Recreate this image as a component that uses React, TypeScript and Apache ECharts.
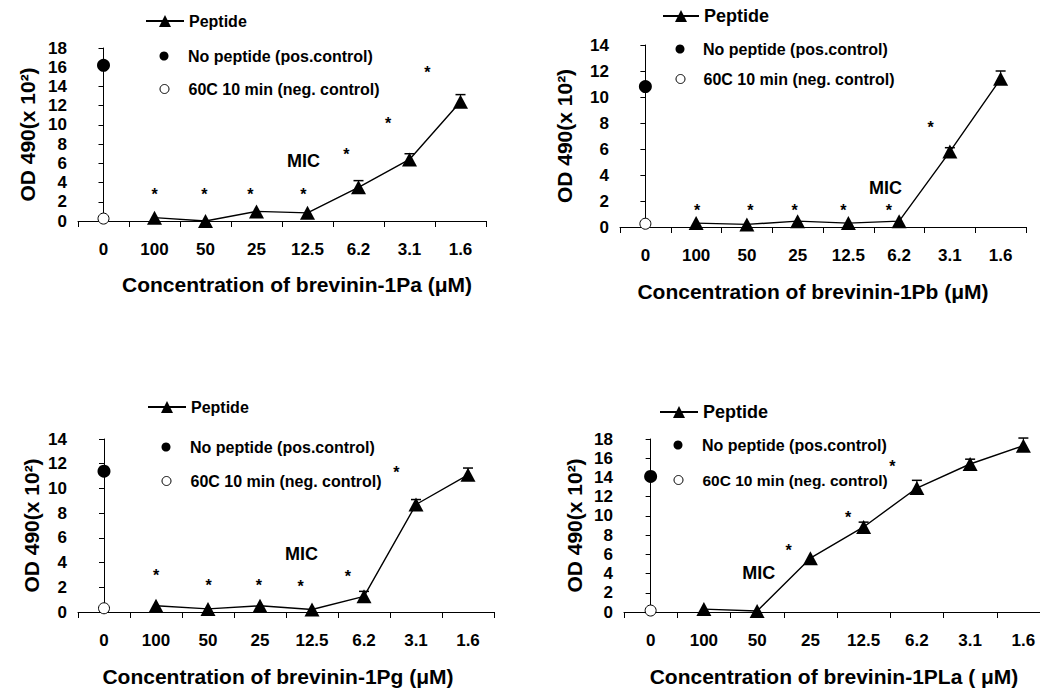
import React, { useEffect, useRef } from "react";
import * as echarts from "echarts";

const FONT = "'Liberation Sans', Arial, Helvetica, sans-serif";

const categories = ["0", "100", "50", "25", "12.5", "6.2", "3.1", "1.6"];
const yTitle = "OD 490(x 10²)";
const legendNames = ["Peptide", "No peptide (pos.control)", "60C 10 min (neg. control)"];

// brevinin-1Pa
const peptide1Pa = [null, 0.35, 0.0, 1.0, 0.85, 3.5, 6.4, 12.4];
const err1Pa = [null, null, null, null, null, 0.7, 0.6, 0.75];
const pos1Pa = 16.2;
const neg1Pa = 0.25;
const starX1Pa = [1.0, 1.98, 2.88, 3.92, 4.76, 5.58, 6.35];
const starY1Pa = [3.1, 3.1, 3.1, 3.1, 7.2, 10.5, 15.8];
const mic1Pa = [3.92, 6.2];

// brevinin-1Pb
const peptide1Pb = [null, 0.3, 0.2, 0.45, 0.3, 0.45, 5.8, 11.4];
const err1Pb = [null, null, null, null, null, null, 0.3, 0.6];
const pos1Pb = 10.8;
const neg1Pb = 0.25;
const starX1Pb = [1.02, 2.07, 2.94, 3.9, 4.8, 5.62];
const starY1Pb = [1.5, 1.5, 1.5, 1.5, 1.5, 7.9];
const mic1Pb = [4.73, 3.0];

// brevinin-1Pg
const peptide1Pg = [null, 0.5, 0.25, 0.5, 0.2, 1.27, 8.7, 11.1];
const err1Pg = [null, null, null, null, null, 0.4, 0.4, 0.55];
const pos1Pg = 11.4;
const neg1Pg = 0.3;
const starX1Pg = [1.0, 2.01, 2.98, 3.78, 4.69, 5.62];
const starY1Pg = [3.2, 2.4, 2.4, 2.3, 3.1, 11.5];
const mic1Pg = [3.8, 4.7];

// brevinin-1PLa
const peptide1PLa = [null, 0.3, 0.1, 5.6, 8.85, 12.9, 15.4, 17.3];
const err1PLa = [null, null, null, null, 0.5, 0.8, 0.5, 0.8];
const pos1PLa = 14.1;
const neg1PLa = 0.15;
const starX1PLa = [2.59, 3.71, 4.54];
const starY1PLa = [6.7, 10.1, 15.5];
const mic1PLa = [2.03, 4.1];

const panels = [
  { peptide: peptide1Pa, err: err1Pa, pos: pos1Pa, neg: neg1Pa, starX: starX1Pa, starY: starY1Pa, mic: mic1Pa, yMax: 18, xName: "Concentration of brevinin-1Pa (μM)" },
  { peptide: peptide1Pb, err: err1Pb, pos: pos1Pb, neg: neg1Pb, starX: starX1Pb, starY: starY1Pb, mic: mic1Pb, yMax: 14, xName: "Concentration of brevinin-1Pb (μM)" },
  { peptide: peptide1Pg, err: err1Pg, pos: pos1Pg, neg: neg1Pg, starX: starX1Pg, starY: starY1Pg, mic: mic1Pg, yMax: 14, xName: "Concentration of brevinin-1Pg (μM)" },
  { peptide: peptide1PLa, err: err1PLa, pos: pos1PLa, neg: neg1PLa, starX: starX1PLa, starY: starY1PLa, mic: mic1PLa, yMax: 18, xName: "Concentration of brevinin-1PLa ( μM)" },
];

// layout (positions/sizes only)
const layouts = [
  { left: 78, top: 48, width: 408, height: 173, yNameGap: 40, xNamePad: [0, 0, 0, 30], xNameGap: 53, legLeft: 145, legW: 38, legY: [22, 56, 89], pepFont: 16, negFont: 16 },
  { left: 620, top: 45, width: 406, height: 182, yNameGap: 45, xNamePad: [0, 20, 0, 0], xNameGap: 54, legLeft: 662, legW: 36, legY: [16, 49, 79], pepFont: 18, negFont: 16 },
  { left: 78, top: 439, width: 416, height: 173, yNameGap: 36, xNamePad: [0, 16, 0, 0], xNameGap: 54, legLeft: 147, legW: 38, legY: [408, 447, 481], pepFont: 16, negFont: 16 },
  { left: 624, top: 439, width: 426, height: 173, yNameGap: 39, xNamePad: [0, 6, 0, 0], xNameGap: 54, legLeft: 659, legW: 38, legY: [412, 445, 480], pepFont: 18, negFont: 15.5 },
];

function buildOption() {
  const grid: any[] = [];
  const xAxis: any[] = [];
  const yAxis: any[] = [];
  const series: any[] = [];
  const legend: any[] = [];

  panels.forEach((p, i) => {
    const L = layouts[i];
    grid.push({ left: L.left, top: L.top, width: L.width, height: L.height });
    xAxis.push({
      type: "category",
      gridIndex: i,
      data: categories,
      boundaryGap: true,
      axisLine: { lineStyle: { color: "#000", width: 1 } },
      axisTick: { show: true, inside: false, length: 6, lineStyle: { color: "#000", width: 1 } },
      axisLabel: { color: "#000", fontSize: 17, fontWeight: "bold", fontFamily: FONT, margin: 20 },
      name: p.xName,
      nameLocation: "middle",
      nameGap: L.xNameGap,
      nameTextStyle: { color: "#000", fontSize: 21, fontWeight: "bold", fontFamily: FONT, padding: L.xNamePad },
    });
    xAxis.push({ type: "value", gridIndex: i, min: -0.5, max: 7.5, show: false });
    yAxis.push({
      type: "value",
      gridIndex: i,
      min: 0,
      max: p.yMax,
      interval: 2,
      axisLine: { show: true, lineStyle: { color: "#000", width: 1 } },
      axisTick: { show: true, length: 5, lineStyle: { color: "#000" } },
      splitLine: { show: false },
      axisLabel: { color: "#000", fontSize: 17, fontWeight: "bold", fontFamily: FONT, margin: 11 },
      name: yTitle,
      nameLocation: "middle",
      nameRotate: 90,
      nameGap: L.yNameGap,
      nameTextStyle: { color: "#000", fontSize: 21, fontWeight: "bold", fontFamily: FONT },
    });

    const catX = 2 * i;
    const valX = 2 * i + 1;

    // error bars
    const errData: any[] = [];
    p.err.forEach((e, k) => {
      if (e != null && p.peptide[k] != null) errData.push([categories[k], p.peptide[k], e]);
    });
    series.push({
      type: "custom",
      xAxisIndex: catX,
      yAxisIndex: i,
      z: 1,
      silent: true,
      data: errData,
      renderItem: (params: any, api: any) => {
        const x = api.value(0);
        const y = api.value(1);
        const e = api.value(2);
        const p0 = api.coord([x, y]);
        const p1 = api.coord([x, y + e]);
        return {
          type: "group",
          children: [
            { type: "line", shape: { x1: p0[0], y1: p0[1], x2: p1[0], y2: p1[1] }, style: { stroke: "#000", lineWidth: 1 } },
            { type: "line", shape: { x1: p1[0] - 5, y1: p1[1], x2: p1[0] + 5, y2: p1[1] }, style: { stroke: "#000", lineWidth: 1.5 } },
          ],
        };
      },
    });

    series.push({
      name: legendNames[0],
      type: "line",
      xAxisIndex: catX,
      yAxisIndex: i,
      z: 3,
      data: p.peptide,
      symbol: "triangle",
      symbolSize: [15, 14],
      itemStyle: { color: "#000", opacity: 1 },
      lineStyle: { color: "#000", width: 1.4 },
    });
    series.push({
      name: legendNames[1],
      type: "scatter",
      xAxisIndex: catX,
      yAxisIndex: i,
      z: 3,
      data: [p.pos, null, null, null, null, null, null, null],
      symbol: "circle",
      symbolSize: 13,
      itemStyle: { color: "#000", opacity: 1 },
    });
    series.push({
      name: legendNames[2],
      type: "scatter",
      xAxisIndex: catX,
      yAxisIndex: i,
      z: 3,
      data: [p.neg, null, null, null, null, null, null, null],
      symbol: "circle",
      symbolSize: 11,
      itemStyle: { color: "#fff", borderColor: "#000", borderWidth: 1, opacity: 1 },
    });
    series.push({
      type: "scatter",
      xAxisIndex: valX,
      yAxisIndex: i,
      silent: true,
      z: 4,
      data: p.starX.map((x, k) => [x, p.starY[k]]),
      symbolSize: 1,
      itemStyle: { color: "rgba(0,0,0,0)", opacity: 1 },
      label: { show: true, position: "inside", formatter: "*", color: "#000", opacity: 1, fontSize: 16, fontWeight: "bold", fontFamily: FONT, offset: [0, 3] },
    });
    series.push({
      type: "scatter",
      xAxisIndex: valX,
      yAxisIndex: i,
      silent: true,
      z: 4,
      data: [p.mic],
      symbolSize: 1,
      itemStyle: { color: "rgba(0,0,0,0)", opacity: 1 },
      label: { show: true, position: "inside", formatter: "MIC", color: "#000", opacity: 1, fontSize: 18, fontWeight: "bold", fontFamily: FONT },
    });

    const base = { selectedMode: false, padding: 0, orient: "horizontal", itemGap: 0 };
    legend.push({
      ...base,
      left: L.legLeft,
      top: L.legY[0] - 9,
      itemWidth: L.legW,
      itemHeight: 15,
      data: [{ name: legendNames[0] }],
      textStyle: { color: "#000", fontSize: L.pepFont, fontWeight: "bold", fontFamily: FONT },
    });
    const cx = L.legLeft + L.legW / 2;
    const textPad = L.legW / 2 - 4.5;
    legend.push({
      ...base,
      left: cx - 4.5,
      top: L.legY[1] - 8,
      itemWidth: 9,
      itemHeight: 9,
      data: [{ name: legendNames[1], icon: "circle", itemStyle: { color: "#000", opacity: 1 } }],
      textStyle: { color: "#000", fontSize: 16, fontWeight: "bold", fontFamily: FONT, padding: [0, 0, 0, textPad] },
    });
    legend.push({
      ...base,
      left: cx - 4.5,
      top: L.legY[2] - 8,
      itemWidth: 9,
      itemHeight: 9,
      data: [{ name: legendNames[2], icon: "circle", itemStyle: { color: "#fff", borderColor: "#000", borderWidth: 1, opacity: 1 } }],
      textStyle: { color: "#000", fontSize: L.negFont, fontWeight: "bold", fontFamily: FONT, padding: [0, 0, 0, textPad] },
    });
  });

  return {
    animation: false,
    backgroundColor: "#fff",
    textStyle: { fontFamily: FONT },
    grid,
    xAxis,
    yAxis,
    series,
    legend,
  };
}

export default function App() {
  const ref = useRef<HTMLDivElement>(null);
  useEffect(() => {
    document.body.style.overflow = "hidden";
    const chart = echarts.init(ref.current!, null, { renderer: "svg" });
    chart.setOption(buildOption() as any);
    return () => chart.dispose();
  }, []);
  return (
    <div
      ref={ref}
      style={{ position: "fixed", left: 0, top: 0, width: 1060, height: 688, background: "#fff" }}
    />
  );
}
